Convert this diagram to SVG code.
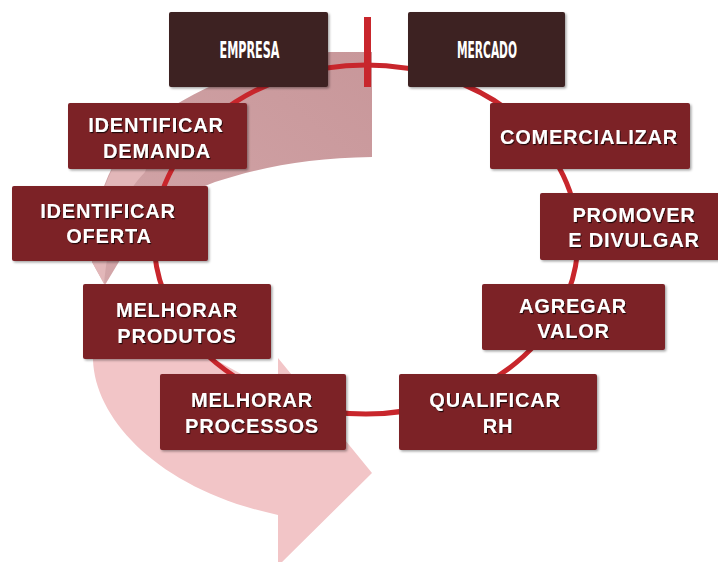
<svg xmlns="http://www.w3.org/2000/svg" width="718" height="562" viewBox="0 0 718 562">
<defs>
<style>
.box{fill:#7b2327;filter:url(#bs)}
.dbox{fill:#3e2323;filter:url(#bs)}
.lbl{font-family:"Liberation Sans",Arial,sans-serif;font-weight:bold;font-size:20px;fill:#fff;text-anchor:middle;letter-spacing:0.8px;filter:url(#ts)}
.hd{font-family:"Liberation Sans Narrow","DejaVu Sans Condensed",sans-serif;font-weight:bold;font-size:23px;fill:#fff;text-anchor:middle}
.ring{fill:none;stroke:#c8262c;stroke-width:5}
</style>
<filter id="bs" x="-10%" y="-10%" width="130%" height="130%">
<feDropShadow dx="1.5" dy="1.5" stdDeviation="1" flood-color="#000" flood-opacity="0.35"/>
</filter>
<filter id="ts" x="-10%" y="-20%" width="130%" height="150%">
<feDropShadow dx="1" dy="1.2" stdDeviation="0.7" flood-color="#000" flood-opacity="0.7"/>
</filter>
<linearGradient id="mauve" x1="1" y1="0" x2="0" y2="1">
<stop offset="0" stop-color="#c8979a"/>
<stop offset="1" stop-color="#d3a6a9"/>
</linearGradient>
</defs>
<rect width="718" height="562" fill="#fff"/>
<g id="cycle-arrow">
<path d="M372,52 L330,52 C280,55 220,78 175,105 C118,135 92,190 92,262 L105,285 L120,260 C150,215 180,195 215,182 C260,167 310,158 372,157 Z" fill="url(#mauve)"/>
<path d="M165,112 C118,140 94,190 92,262 L104,284 C108,240 118,200 145,172 Z" fill="#e2b7b9"/>
<path d="M105,283 C95,300 92,330 93,360 C95,420 160,490 278,515 L278,566 L372,473 L278,358 L278,396 C240,370 150,330 105,283 Z" fill="#f2c5c7"/>
</g>
<g id="connectors">
<ellipse class="ring" cx="366" cy="239.5" rx="212" ry="174.5"/>
<rect x="364" y="17" width="7" height="70" fill="#c8262c"/>
</g>
<g id="empresa">
<rect class="dbox" x="169" y="12" width="159" height="75" rx="2"/>
<text class="hd" x="249.5" y="58" textLength="60" lengthAdjust="spacingAndGlyphs">EMPRESA</text>
</g>
<g id="mercado">
<rect class="dbox" x="408" y="12" width="157" height="75" rx="2"/>
<text class="hd" x="487" y="58" textLength="60" lengthAdjust="spacingAndGlyphs">MERCADO</text>
</g>
<g id="identificar-demanda">
<rect class="box" x="68" y="103" width="179" height="66" rx="2"/>
<text class="lbl" x="156" y="132">IDENTIFICAR</text>
<text class="lbl" x="157" y="158">DEMANDA</text>
</g>
<g id="identificar-oferta">
<rect class="box" x="12" y="186" width="196" height="75" rx="2"/>
<text class="lbl" x="108" y="218">IDENTIFICAR</text>
<text class="lbl" x="109" y="243">OFERTA</text>
</g>
<g id="melhorar-produtos">
<rect class="box" x="83" y="284" width="188" height="75" rx="2"/>
<text class="lbl" x="177" y="317">MELHORAR</text>
<text class="lbl" x="177" y="343">PRODUTOS</text>
</g>
<g id="melhorar-processos">
<rect class="box" x="160" y="374" width="186" height="76" rx="2"/>
<text class="lbl" x="252" y="407">MELHORAR</text>
<text class="lbl" x="252" y="433">PROCESSOS</text>
</g>
<g id="comercializar">
<rect class="box" x="490" y="103" width="200" height="66" rx="2"/>
<text class="lbl" x="589" y="144">COMERCIALIZAR</text>
</g>
<g id="promover-divulgar">
<rect class="box" x="540" y="193" width="180" height="67" rx="2"/>
<text class="lbl" x="634" y="222">PROMOVER</text>
<text class="lbl" x="634" y="247">E DIVULGAR</text>
</g>
<g id="agregar-valor">
<rect class="box" x="482" y="284" width="183" height="66" rx="2"/>
<text class="lbl" x="573" y="313">AGREGAR</text>
<text class="lbl" x="573.5" y="338">VALOR</text>
</g>
<g id="qualificar-rh">
<rect class="box" x="399" y="374" width="198" height="76" rx="2"/>
<text class="lbl" x="495" y="407">QUALIFICAR</text>
<text class="lbl" x="498" y="433">RH</text>
</g>
</svg>
